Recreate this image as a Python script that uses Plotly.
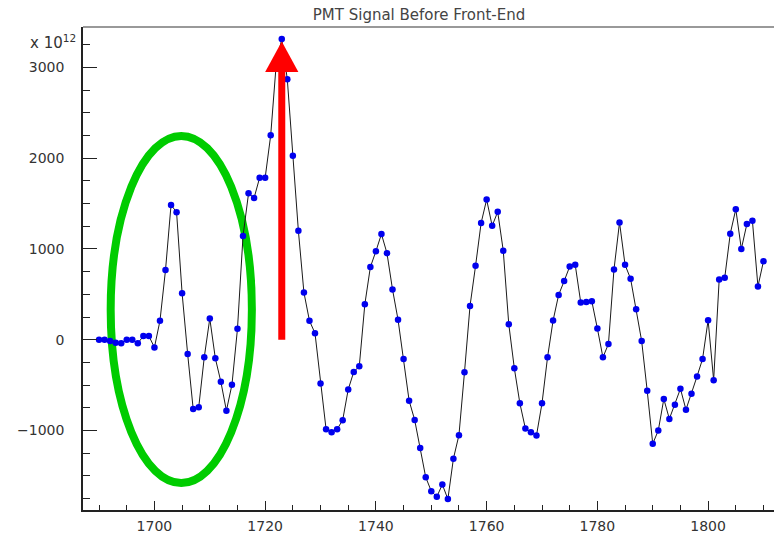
import plotly.graph_objects as go

# ---- data (values in units of 1e12) ----
x_start = 1690
signal = [
    0, 0, -15, -33, -40, 0, 0, -40, 40, 40,            # 1690-1699
    -85, 208, 767, 1485, 1405, 511, -157, -763, -745, -194,   # 1700-1709
    233, -205, -464, -782, -497, 120, 1142, 1613, 1562, 1785,  # 1710-1719
    1785, 2252, 3040, 3315, 2870, 2026, 1200, 521, 208, 72,    # 1720-1729
    -482, -986, -1019, -986, -887, -548, -355, -292, 390, 800, # 1730-1739
    975, 1164, 953, 554, 219, -212, -672, -884, -1194, -1516,  # 1740-1749
    -1669, -1731, -1596, -1757, -1311, -1052, -358, 372, 814, 1285,  # 1750-1759
    1544, 1255, 1409, 981, 171, -314, -701, -979, -1019, -1056,  # 1760-1769
    -701, -194, 211, 493, 646, 806, 825, 409, 416, 423,        # 1770-1779
    124, -194, -48, 773, 1292, 825, 671, 335, -15, -563,       # 1780-1789
    -1147, -1001, -654, -873, -716, -541, -771, -596, -405, -212,  # 1790-1799
    215, -446, 664, 682, 1168, 1438, 1000, 1274, 1310, 587,    # 1800-1809
    865,                                                        # 1810
]
sample = list(range(x_start, x_start + len(signal)))

x_tick_vals = [1700, 1720, 1740, 1760, 1780, 1800]
y_tick_vals = [-1000, 0, 1000, 2000, 3000]
title_text = "PMT Signal Before Front-End"
scale_label = "x 10<sup>12</sup>"

# annotation geometry (data units)
ellipse_box = dict(x0=1692.1, x1=1717.6, y0=-1580, y1=2245)
arrow_x = 1723
arrow_base = 0
arrow_head_base = 2950
arrow_tip = 3285
arrow_half_w = 3.0

fig = go.Figure()
fig.add_trace(go.Scatter(
    x=sample, y=signal, mode="lines+markers",
    line=dict(color="#1a1a1a", width=1),
    marker=dict(color="#0000ee", size=6.5, line=dict(width=0)),
    hoverinfo="skip", showlegend=False,
))

font_fam = "DejaVu Sans, Liberation Sans, Arial, sans-serif"

fig.update_layout(
    width=774, height=534,
    margin=dict(l=83, r=0, t=27, b=21, pad=0),
    paper_bgcolor="white", plot_bgcolor="white",
    font=dict(family=font_fam, size=14, color="#333333"),
    title=dict(text=title_text, x=(419 - 83) / 691, xref="paper", xanchor="center",
               y=1 - 15 / 534, yanchor="middle",
               font=dict(family=font_fam, size=15, color="#444444")),
    xaxis=dict(range=[1687.1, 1811.9], showgrid=False, zeroline=False,
               showline=True, linecolor="#222222", linewidth=1.5,
               ticks="inside", ticklen=9, tickwidth=1, tickcolor="#222222",
               tickvals=x_tick_vals, ticklabelstandoff=2,
               minor=dict(ticks="inside", ticklen=5, dtick=5, tick0=1700,
                          tickcolor="#222222", tickwidth=1, showgrid=False),
               tickfont=dict(size=14)),
    yaxis=dict(range=[-1877, 3446], showgrid=False, zeroline=False,
               showline=True, linecolor="#222222", linewidth=1.5,
               ticks="inside", ticklen=14, tickwidth=1, tickcolor="#222222",
               tickvals=y_tick_vals, ticklabelstandoff=14,
               minor=dict(ticks="inside", ticklen=7, dtick=250, tick0=0,
                          tickcolor="#222222", tickwidth=1, showgrid=False),
               tickfont=dict(size=14)),
)

# top frame line
fig.add_shape(type="line", xref="paper", yref="paper", x0=0, x1=1, y0=1, y1=1,
              line=dict(color="#777777", width=1.5), layer="above")

# green ellipse (behind the data)
fig.add_shape(type="circle", xref="x", yref="y", layer="below",
              line=dict(color="#00cc00", width=8), **ellipse_box)

# red arrow (drawn over the data): shaft + head
fig.add_shape(type="line", xref="x", yref="y", layer="above",
              x0=arrow_x, x1=arrow_x, y0=arrow_base, y1=arrow_head_base + 20,
              line=dict(color="#ff0000", width=7))
fig.add_shape(type="path", xref="x", yref="y", layer="above",
              path=f"M {arrow_x - arrow_half_w},{arrow_head_base} L {arrow_x + arrow_half_w},{arrow_head_base} L {arrow_x},{arrow_tip} Z",
              fillcolor="#ff0000", line=dict(color="#ff0000", width=0))

# scale label
fig.add_annotation(text=scale_label, xref="paper", yref="y", x=(78 - 83) / 691, y=3250,
                   xanchor="right", yanchor="middle", showarrow=False, yshift=3,
                   font=dict(family=font_fam, size=15, color="#333333"))

fig.write_html("out.html")
